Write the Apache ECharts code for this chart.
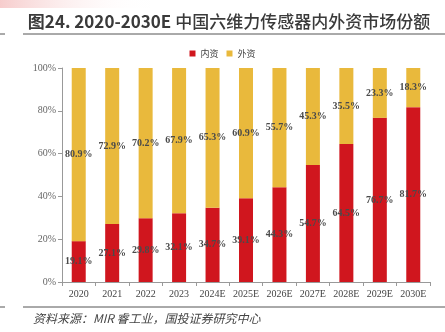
<!DOCTYPE html>
<html><head><meta charset="utf-8">
<script src="https://cdn.jsdelivr.net/npm/echarts@6/dist/echarts.min.js"></script>
<style>html,body{margin:0;padding:0;background:#fff}#c{width:445px;height:332px}</style>
</head><body><div id="c"></div>
<script>
const categories = ['2020','2021','2022','2023','2024E','2025E','2026E','2027E','2028E','2029E','2030E'];
const domestic = [19.1, 27.1, 29.8, 32.1, 34.7, 39.1, 44.3, 54.7, 64.5, 76.7, 81.7];
const foreign = [80.9, 72.9, 70.2, 67.9, 65.3, 60.9, 55.7, 45.3, 35.5, 23.3, 18.3];
const yTicks = [0, 20, 40, 60, 80, 100];

const chart = echarts.init(document.getElementById('c'));
const serif = '"Liberation Serif", "DejaVu Serif", serif';
const lbl = {show:true, position:'inside', formatter: p => p.value.toFixed(1)+'%', fontFamily: serif, fontSize: 10, fontWeight: 'bold', color: '#4a4a4a'};
chart.setOption({
  animation:false,
  graphic:[
    {type:'rect', shape:{x:0,y:0,width:150,height:8}, style:{fill:new echarts.graphic.LinearGradient(0,0,1,0,[{offset:0,color:'rgba(240,170,170,0.6)'},{offset:1,color:'rgba(255,255,255,0)'}])}},
    {type:'text', x:229, y:22, style:{text:'{a|图24. 2020-2030E }{b|中国六维力传感器内外资市场份额}', textAlign:'center', textVerticalAlign:'middle',
      rich:{a:{font:'bold 17px "Noto Sans CJK SC", sans-serif', fill:'#3a3a3a'}, b:{font:'500 17px "Noto Sans CJK SC", sans-serif', fill:'#3a3a3a'}}}},
    {type:'line', shape:{x1:23,y1:34,x2:445,y2:34}, style:{stroke:'#555',lineWidth:1}},
    {type:'line', shape:{x1:0,y1:34,x2:5,y2:34}, style:{stroke:'#555',lineWidth:1}},
    {type:'line', shape:{x1:23,y1:307,x2:445,y2:307}, style:{stroke:'#555',lineWidth:1}},
    {type:'line', shape:{x1:0,y1:307,x2:5,y2:307}, style:{stroke:'#555',lineWidth:1}},
    {type:'text', x:33, y:318, style:{text:'资料来源：MIR 睿工业，国投证券研究中心', textVerticalAlign:'middle', font:'italic 12px "Noto Sans CJK SC", sans-serif', fill:'#444'}}
  ],
  legend:{top:44, left:'center', icon:'rect', itemWidth:6, itemHeight:6, itemGap:8, textStyle:{fontSize:9, color:'#444', fontFamily:'"Noto Sans CJK SC", sans-serif'}, data:['内资','外资']},
  grid:{left:62, right:15, top:68, bottom:50},
  xAxis:{type:'category', data:categories, axisLine:{lineStyle:{color:'#999'}}, axisTick:{show:true, length:4, lineStyle:{color:'#999'}}, axisLabel:{interval:0, fontFamily:serif, fontSize:10, color:'#444', margin:7}},
  yAxis:{type:'value', min:0, max:100, interval:20, axisLine:{show:true, lineStyle:{color:'#999'}}, axisTick:{show:true, length:4, lineStyle:{color:'#999'}}, splitLine:{show:false}, axisLabel:{formatter: v => yTicks.includes(v) ? v+'%' : '', fontFamily:serif, fontSize:10, color:'#666', margin:6}},
  series:[
    {name:'内资', type:'bar', stack:'a', data:domestic, barWidth:14, itemStyle:{color:'#D0161E'}, label:lbl},
    {name:'外资', type:'bar', stack:'a', data:foreign, barWidth:14, itemStyle:{color:'#E9B93C'}, label:lbl}
  ]
});
</script></body></html>
